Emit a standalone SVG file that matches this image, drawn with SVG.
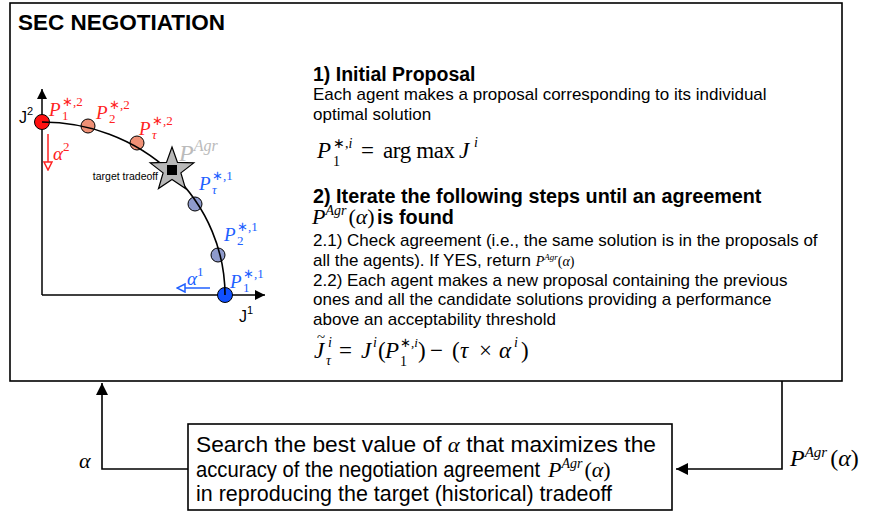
<svg xmlns="http://www.w3.org/2000/svg" width="869" height="519" viewBox="0 0 869 519">
<defs>
<marker id="ah" viewBox="0 0 10 10" refX="10" refY="5" markerWidth="10" markerHeight="10" markerUnits="userSpaceOnUse" orient="auto"><path d="M0,0 L10,5 L0,10 z" fill="#000"/></marker>
<marker id="ahs" viewBox="0 0 10 10" refX="10" refY="5" markerWidth="12" markerHeight="12" markerUnits="userSpaceOnUse" orient="auto"><path d="M0,0 L10,5 L0,10 z" fill="#000"/></marker>
<marker id="openRed" viewBox="0 0 10 10" refX="9" refY="5" markerWidth="10" markerHeight="10" markerUnits="userSpaceOnUse" orient="auto"><path d="M1,1 L9,5 L1,9 z" fill="#fff" stroke="#f22" stroke-width="1.5"/></marker>
<marker id="openBlue" viewBox="0 0 10 10" refX="9" refY="5" markerWidth="10" markerHeight="10" markerUnits="userSpaceOnUse" orient="auto"><path d="M1,1 L9,5 L1,9 z" fill="#fff" stroke="#2060ff" stroke-width="1.5"/></marker>
</defs>
<style>
.box{fill:#fff;stroke:#000;stroke-width:1.6}
.t{font-family:"Liberation Sans",Arial,sans-serif;fill:#000}
.b{font-weight:bold}
.m{font-family:"Liberation Serif","Times New Roman",serif}
.i{font-style:italic}
.n{font-style:normal}
.red{fill:#f22}
.blue{fill:#2060ff}
.gray{fill:#bbb}
.ax{stroke:#000;stroke-width:1.5;fill:none}
.line{stroke:#000;stroke-width:1.6;fill:none}
.pt{stroke:#000;stroke-width:1}
.big{font-size:23px}
.sm{font-size:14px}
</style>
<rect width="869" height="519" fill="#fff"/>

<g id="negotiation">
<rect class="box" x="10" y="3" width="832" height="378"/>
<text class="t b" x="18" y="30" font-size="22.5">SEC NEGOTIATION</text>

<g id="plot">
<line class="ax" x1="42" y1="295" x2="42" y2="89" marker-end="url(#ah)"/>
<line class="ax" x1="42" y1="295" x2="265" y2="295" marker-end="url(#ah)"/>
<text class="t" x="19" y="123" font-size="16">J<tspan font-size="11" dy="-8">2</tspan></text>
<text class="t" x="239" y="322" font-size="16">J<tspan font-size="11" dy="-8">1</tspan></text>
<circle class="pt" cx="42" cy="122" r="7.5" fill="#ff1010"/>
<circle class="pt" cx="225" cy="295" r="7.5" fill="#1050ff"/>
<circle class="pt" cx="88" cy="126" r="7" fill="#ef9075"/>
<circle class="pt" cx="137" cy="143" r="7" fill="#ef9075"/>
<circle class="pt" cx="195" cy="204" r="7" fill="#8e9acb"/>
<circle class="pt" cx="218" cy="255" r="7" fill="#8e9acb"/>
<path class="line" d="M42,122 A183,173 0 0 1 225,295"/>
<polygon points="172,147 177.5,162.4 193.8,162.9 180.9,172.9 185.5,188.6 172,179.4 158.5,188.6 163.1,172.9 150.2,162.9 166.5,162.4" fill="#b8b8b8" stroke="#000" stroke-width="1.2"/>
<rect x="167" y="165" width="10" height="10" fill="#000"/>
<text class="t" x="158" y="180" font-size="10.5" text-anchor="end">target tradeoff</text>
<text class="m i gray" x="179" y="161" font-size="24">P<tspan font-size="16" dy="-10">Agr</tspan></text>

<text class="m i red" x="49" y="116" font-size="19">P</text>
<text class="m red" x="62" y="106" font-size="13">∗,2</text>
<text class="m red" x="62" y="120" font-size="13">1</text>
<text class="m i red" x="96" y="119" font-size="19">P</text>
<text class="m red" x="109" y="109" font-size="13">∗,2</text>
<text class="m red" x="109" y="123" font-size="13">2</text>
<text class="m i red" x="139" y="135" font-size="19">P</text>
<text class="m red" x="152" y="125" font-size="13">∗,2</text>
<text class="m i red" x="152" y="139" font-size="13">τ</text>

<text class="m i blue" x="199" y="190" font-size="19">P</text>
<text class="m blue" x="212" y="180" font-size="13">∗,1</text>
<text class="m i blue" x="212" y="194" font-size="13">τ</text>
<text class="m i blue" x="224" y="241" font-size="19">P</text>
<text class="m blue" x="237" y="231" font-size="13">∗,1</text>
<text class="m blue" x="237" y="245" font-size="13">2</text>
<text class="m i blue" x="230" y="288" font-size="19">P</text>
<text class="m blue" x="243" y="278" font-size="13">∗,1</text>
<text class="m blue" x="243" y="292" font-size="13">1</text>

<line x1="48" y1="134" x2="48" y2="170" stroke="#f22" stroke-width="1.5" marker-end="url(#openRed)"/>
<text class="m i red" x="53" y="160" font-size="19">α<tspan class="n" font-size="13" dy="-9">2</tspan></text>
<line x1="210" y1="288" x2="177" y2="288" stroke="#2060ff" stroke-width="1.5" marker-end="url(#openBlue)"/>
<text class="m i blue" x="187" y="285" font-size="19">α<tspan class="n" font-size="13" dy="-9">1</tspan></text>
</g>

<g id="steps">
<text class="t b" x="313" y="81" font-size="19.5">1) Initial Proposal</text>
<text class="t" x="313" y="100" font-size="17">Each agent makes a proposal corresponding to its individual</text>
<text class="t" x="313" y="119.5" font-size="17">optimal solution</text>
<text class="m i big" x="317" y="158">P</text>
<text class="m sm" x="333" y="148">∗,<tspan class="i">i</tspan></text>
<text class="m sm" x="333" y="166">1</text>
<text class="m big" x="361" y="158">=</text>
<text class="m big" x="383" y="158" textLength="72">arg max</text>
<text class="m i big" x="459" y="158">J</text>
<text class="m i sm" x="474" y="147">i</text>

<text class="t b" x="313" y="203" font-size="19.8">2) Iterate the following steps until an agreement</text>
<text class="m i" x="312" y="224" font-size="22">P<tspan font-size="14" dy="-9">Agr</tspan><tspan class="n" dx="2" dy="9">(</tspan>α<tspan class="n">)</tspan></text>
<text class="t b" x="377" y="224" font-size="19.8">is found</text>
<text class="t" x="313" y="246" font-size="17">2.1) Check agreement (i.e., the same solution is in the proposals of</text>
<text class="t" x="313" y="266" font-size="17">all the agents). If YES, return <tspan class="m i" font-size="14">P<tspan font-size="9" dy="-6">Agr</tspan><tspan class="n" dy="6">(</tspan>α<tspan class="n">)</tspan></tspan></text>
<text class="t" x="313" y="285.5" font-size="17">2.2) Each agent makes a new proposal containing the previous</text>
<text class="t" x="313" y="305" font-size="17">ones and all the candidate solutions providing a performance</text>
<text class="t" x="313" y="324.5" font-size="17">above an acceptability threshold</text>
<text class="m i big" x="314" y="358">J</text>
<text class="m" x="317" y="342" font-size="15">~</text>
<text class="m i sm" x="328" y="347">i</text>
<text class="m i sm" x="326" y="365">τ</text>
<text class="m big" x="339" y="358">=</text>
<text class="m i big" x="361" y="358">J</text>
<text class="m i sm" x="373" y="347">i</text>
<text class="m big" x="378" y="358">(</text>
<text class="m i big" x="385" y="358">P</text>
<text class="m" x="400" y="347" font-size="13">∗,<tspan class="i">i</tspan></text>
<text class="m sm" x="400" y="366">1</text>
<text class="m big" x="418" y="358">)</text>
<text class="m big" x="430" y="358">−</text>
<text class="m big" x="452" y="358">(</text>
<text class="m i big" x="460" y="358">τ</text>
<text class="m big" x="479" y="358">×</text>
<text class="m i big" x="499" y="358">α</text>
<text class="m i sm" x="514" y="347">i</text>
<text class="m big" x="521" y="358">)</text>
</g>
</g>

<g id="search">
<rect class="box" x="188" y="424" width="484" height="86"/>
<text class="t" x="196" y="452" font-size="21.5" textLength="460" lengthAdjust="spacingAndGlyphs">Search the best value of <tspan class="m i">α</tspan> that maximizes the</text>
<text class="t" x="196" y="477" font-size="21.5" textLength="344" lengthAdjust="spacingAndGlyphs">accuracy of the negotiation agreement</text>
<text class="m i" x="548" y="477" font-size="22">P<tspan font-size="14" dy="-9">Agr</tspan><tspan class="n" dx="2" dy="9">(</tspan>α<tspan class="n">)</tspan></text>
<text class="t" x="196" y="501" font-size="21.5" textLength="416" lengthAdjust="spacingAndGlyphs">in reproducing the target (historical) tradeoff</text>
</g>

<g id="connectors">
<polyline class="line" points="188,469 102,469 102,383" marker-end="url(#ahs)"/>
<polyline class="line" points="782,381 782,469 676,469" marker-end="url(#ahs)"/>
<text class="m i" x="79" y="468" font-size="22">α</text>
<text class="m i" x="790" y="466" font-size="24">P<tspan font-size="15" dy="-9">Agr</tspan><tspan class="n" dx="3" dy="9">(</tspan>α<tspan class="n">)</tspan></text>
</g>
</svg>
